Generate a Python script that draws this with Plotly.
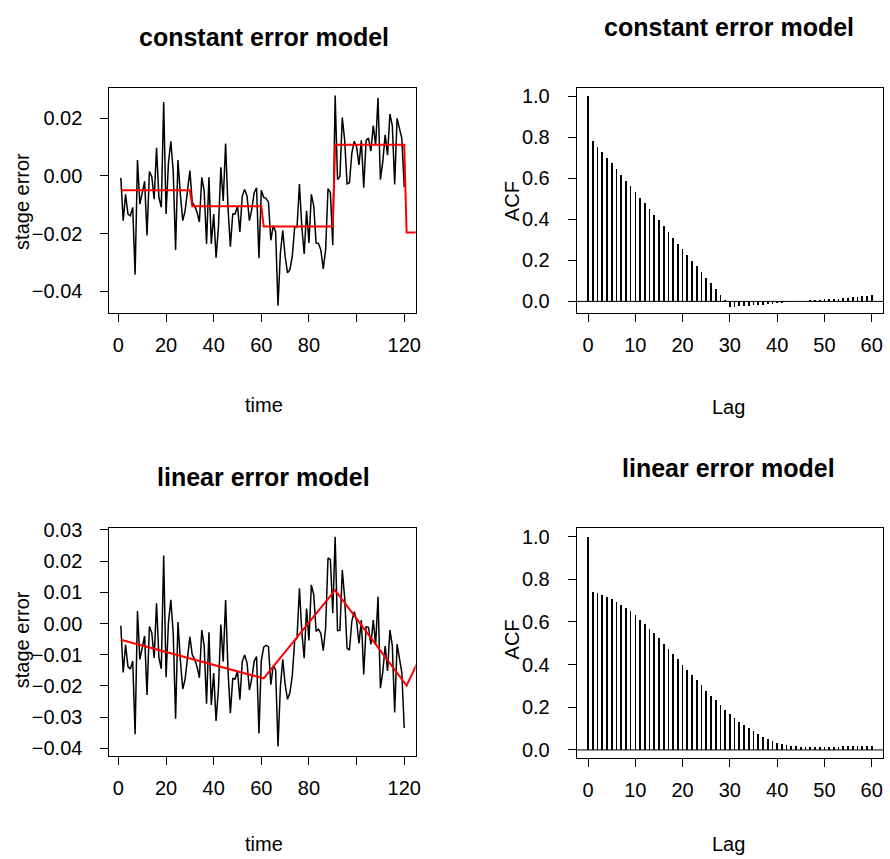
import plotly.graph_objects as go
from plotly.subplots import make_subplots

# ---------------- data ----------------
time = list(range(1, 121))

stage_error_const = [
    -0.0007, -0.0155, -0.0064, -0.0132, -0.0138, -0.0109, -0.0342, 0.0055, -0.0098, -0.0053,
    -0.0019, -0.0206, 0.0015, -0.0002, -0.0081, 0.0097, -0.0075, -0.0109, 0.0256, -0.0132,
    0.0044, 0.0120, 0.0015, -0.0257, 0.0055, -0.0064, -0.0155, -0.0121, -0.0053, 0.0018,
    -0.0092, -0.0104, -0.0126, -0.0160, -0.0005, -0.0053, -0.0236, -0.0005, -0.0236, -0.0132,
    -0.0283, -0.0177, 0.0030, -0.0087, 0.0112, -0.0109, -0.0245, -0.0132, -0.0132, -0.0104,
    -0.0194, -0.0070, -0.0047, -0.0070, -0.0155, -0.0115, -0.0058, -0.0041, -0.0285, -0.0050,
    -0.0075, -0.0078, -0.0092, -0.0223, -0.0172, -0.0194, -0.0450, -0.0268, -0.0189, -0.0279,
    -0.0336, -0.0325, -0.0279, -0.0177, -0.0177, -0.0028, -0.0177, -0.0270, -0.0121, -0.0232,
    -0.0064, -0.0104, -0.0232, -0.0234, -0.0257, -0.0322, -0.0257, -0.0044, -0.0058, -0.0240,
    0.0278, -0.0013, -0.0002, 0.0202, 0.0123, -0.0028, -0.0024, 0.0078, 0.0120, 0.0100,
    0.0038, 0.0123, -0.0041, 0.0123, 0.0131, 0.0086, 0.0174, 0.0106, 0.0270, -0.0013,
    0.0049, 0.0142, 0.0072, 0.0214, 0.0174, -0.0030, 0.0199, 0.0168, 0.0129, -0.0039,
]

stage_error_linear = [
    -0.0007, -0.0157, -0.0068, -0.0138, -0.0146, -0.0120, -0.0355, 0.0040, -0.0115, -0.0072,
    -0.0040, -0.0229, -0.0010, -0.0029, -0.0110, 0.0065, -0.0109, -0.0145, 0.0218, -0.0172,
    0.0002, 0.0076, -0.0031, -0.0305, 0.0005, -0.0117, -0.0210, -0.0178, -0.0112, -0.0043,
    -0.0100, -0.0114, -0.0138, -0.0174, -0.0021, -0.0072, -0.0257, -0.0028, -0.0261, -0.0159,
    -0.0312, -0.0208, -0.0003, -0.0122, 0.0075, -0.0149, -0.0287, -0.0176, -0.0178, -0.0152,
    -0.0244, -0.0122, -0.0101, -0.0126, -0.0213, -0.0176, -0.0121, -0.0106, -0.0352, -0.0119,
    -0.0076, -0.0070, -0.0074, -0.0196, -0.0135, -0.0148, -0.0394, -0.0203, -0.0115, -0.0195,
    -0.0243, -0.0222, -0.0167, -0.0055, -0.0046, 0.0113, -0.0027, -0.0111, 0.0048, -0.0054,
    0.0124, 0.0093, -0.0025, -0.0018, -0.0032, -0.0087, -0.0013, 0.0210, 0.0205, 0.0033,
    0.0278, -0.0023, -0.0022, 0.0171, 0.0082, -0.0079, -0.0085, 0.0007, 0.0038, 0.0008,
    -0.0064, 0.0011, -0.0163, -0.0010, -0.0012, -0.0067, 0.0011, -0.0067, 0.0086, -0.0207,
    -0.0155, -0.0072, -0.0152, -0.0021, -0.0071, -0.0285, -0.0066, -0.0107, -0.0157, -0.0335,
]

# fitted error models (red)
const_model_time = [1, 30, 31, 60, 61, 90, 91, 120, 121, 127]
const_model_value = [-0.0050, -0.0050, -0.0105, -0.0105, -0.0175, -0.0175,
                     0.0108, 0.0108, -0.0196, -0.0196]
linear_model_time = [1, 61, 91, 121, 127]
linear_model_value = [-0.0052, -0.0176, 0.0107, -0.0199, -0.0103]

lags = list(range(0, 61))
acf_const = [
    1.000, 0.781, 0.754, 0.727, 0.700, 0.673, 0.645, 0.618, 0.588, 0.561,
    0.534, 0.506, 0.478, 0.449, 0.422, 0.395, 0.366, 0.337, 0.310, 0.281,
    0.254, 0.227, 0.198, 0.171, 0.142, 0.115, 0.088, 0.059, 0.032, 0.006,
    -0.027, -0.026, -0.024, -0.022, -0.021, -0.019, -0.018, -0.016, -0.013, -0.011,
    -0.008, -0.006, -0.005, -0.002, 0.000, 0.002, 0.003, 0.005, 0.006, 0.008,
    0.010, 0.011, 0.013, 0.014, 0.016, 0.019, 0.021, 0.022, 0.026, 0.027,
    0.029,
]
acf_linear = [
    1.000, 0.738, 0.734, 0.726, 0.717, 0.706, 0.695, 0.680, 0.665, 0.649,
    0.631, 0.611, 0.591, 0.569, 0.546, 0.525, 0.498, 0.474, 0.449, 0.425,
    0.400, 0.374, 0.349, 0.326, 0.303, 0.278, 0.255, 0.232, 0.209, 0.188,
    0.168, 0.149, 0.132, 0.117, 0.102, 0.088, 0.075, 0.063, 0.052, 0.042,
    0.034, 0.028, 0.022, 0.018, 0.017, 0.015, 0.015, 0.014, 0.014, 0.014,
    0.014, 0.015, 0.015, 0.015, 0.017, 0.017, 0.017, 0.017, 0.018, 0.020,
    0.020,
]

time_ticks = [0, 20, 40, 60, 80, 100, 120]
time_ticktext = ["0", "20", "40", "60", "80", "", "120"]
lag_ticks = [0, 10, 20, 30, 40, 50, 60]
acf_ticks = [0.0, 0.2, 0.4, 0.6, 0.8, 1.0]
const_yticks = [-0.04, -0.02, 0.00, 0.02]
linear_yticks = [-0.04, -0.03, -0.02, -0.01, 0.00, 0.01, 0.02, 0.03]

# ---------------- figure ----------------
W, H = 890, 859
FONT = "Liberation Sans, Arial, Helvetica, sans-serif"
TICK_SIZE = 20

fig = make_subplots(rows=2, cols=2)

fig.add_trace(go.Scatter(x=time, y=stage_error_const, mode="lines",
                         line=dict(color="black", width=1.5)), row=1, col=1)
fig.add_trace(go.Scatter(x=const_model_time, y=const_model_value, mode="lines",
                         line=dict(color="#ff0000", width=2)), row=1, col=1)
fig.add_trace(go.Bar(x=lags, y=acf_const, width=0.36,
                     marker=dict(color="black", line=dict(width=0))), row=1, col=2)
fig.add_trace(go.Scatter(x=time, y=stage_error_linear, mode="lines",
                         line=dict(color="black", width=1.5)), row=2, col=1)
fig.add_trace(go.Scatter(x=linear_model_time, y=linear_model_value, mode="lines",
                         line=dict(color="#ff0000", width=2)), row=2, col=1)
fig.add_trace(go.Bar(x=lags, y=acf_linear, width=0.36,
                     marker=dict(color="black", line=dict(width=0))), row=2, col=2)


def px_x(a, b):
    return [a / W, b / W]


def px_y(top, bottom):
    return [1 - bottom / H, 1 - top / H]


axis_common = dict(showline=True, linecolor="black", linewidth=1, mirror=True,
                   ticks="outside", ticklen=8, tickwidth=1, tickcolor="black",
                   showgrid=False, zeroline=False,
                   tickfont=dict(family=FONT, size=TICK_SIZE, color="black"))

XSTAND = 6
YSTAND = 14

# top-left
fig.update_xaxes(domain=px_x(110, 418), range=[-3.8, 124.8], tickvals=time_ticks,
                 ticktext=time_ticktext, ticklabelstandoff=XSTAND, **axis_common, row=1, col=1)
fig.update_yaxes(domain=px_y(80, 309), range=[-0.0476, 0.0305], tickvals=const_yticks,
                 ticktext=["\u22120.04", "\u22120.02", "0.00", "0.02"],
                 ticklabelstandoff=YSTAND, **axis_common, row=1, col=1)
# top-right
fig.update_xaxes(domain=px_x(580, 888), range=[-2.4, 62.4], tickvals=lag_ticks,
                 ticklabelstandoff=XSTAND, **axis_common, row=1, col=2)
fig.update_yaxes(domain=px_y(80, 309), range=[-0.058, 1.041], tickvals=acf_ticks,
                 ticktext=["0.0", "0.2", "0.4", "0.6", "0.8", "1.0"],
                 ticklabelstandoff=YSTAND, **axis_common, row=1, col=2)
# bottom-left
fig.update_xaxes(domain=px_x(110, 418), range=[-3.8, 124.8], tickvals=time_ticks,
                 ticktext=time_ticktext, ticklabelstandoff=XSTAND, **axis_common, row=2, col=1)
fig.update_yaxes(domain=px_y(527, 758), range=[-0.0423, 0.0306], tickvals=linear_yticks,
                 ticktext=["\u22120.04", "\u22120.03", "\u22120.02", "\u22120.01",
                           "0.00", "0.01", "0.02", "0.03"],
                 ticklabelstandoff=YSTAND, **axis_common, row=2, col=1)
# bottom-right
fig.update_xaxes(domain=px_x(580, 888), range=[-2.4, 62.4], tickvals=lag_ticks,
                 ticklabelstandoff=XSTAND, **axis_common, row=2, col=2)
fig.update_yaxes(domain=px_y(527, 761), range=[-0.04, 1.04], tickvals=acf_ticks,
                 ticktext=["0.0", "0.2", "0.4", "0.6", "0.8", "1.0"],
                 ticklabelstandoff=YSTAND, **axis_common, row=2, col=2)

fig.add_hline(y=0, line=dict(color="black", width=1), row=1, col=2)
fig.add_hline(y=0, line=dict(color="black", width=1), row=2, col=2)


def ann(text, x, y, size=TICK_SIZE, bold=False, angle=0):
    fig.add_annotation(text=f"<b>{text}</b>" if bold else text,
                       x=x / W, y=1 - y / H, xref="paper", yref="paper",
                       showarrow=False, textangle=angle, xanchor="center", yanchor="middle",
                       font=dict(family=FONT, size=size, color="black"))


TITLE_SIZE = 25
ann("constant error model", 265, 28, size=TITLE_SIZE, bold=True)
ann("constant error model", 733, 18, size=TITLE_SIZE, bold=True)
ann("linear error model", 265, 475, size=TITLE_SIZE, bold=True)
ann("linear error model", 733, 466, size=TITLE_SIZE, bold=True)
ann("time", 265, 402)
ann("time", 265, 848)
ann("Lag", 733, 404)
ann("Lag", 733, 848)
ann("stage error", 22, 195, angle=-90)
ann("stage error", 22, 640, angle=-90)
ann("ACF", 515, 195, angle=-90)
ann("ACF", 515, 640, angle=-90)

fig.update_layout(width=W, height=H, margin=dict(l=0, r=0, t=0, b=0),
                  paper_bgcolor="white", plot_bgcolor="white", showlegend=False,
                  bargap=0, hovermode=False, font=dict(family=FONT, color="black"))

fig.write_html("out.html",
               config={"displayModeBar": False, "staticPlot": True},
               post_script="document.body.style.margin='0';"
                           "document.body.style.overflow='hidden';")
